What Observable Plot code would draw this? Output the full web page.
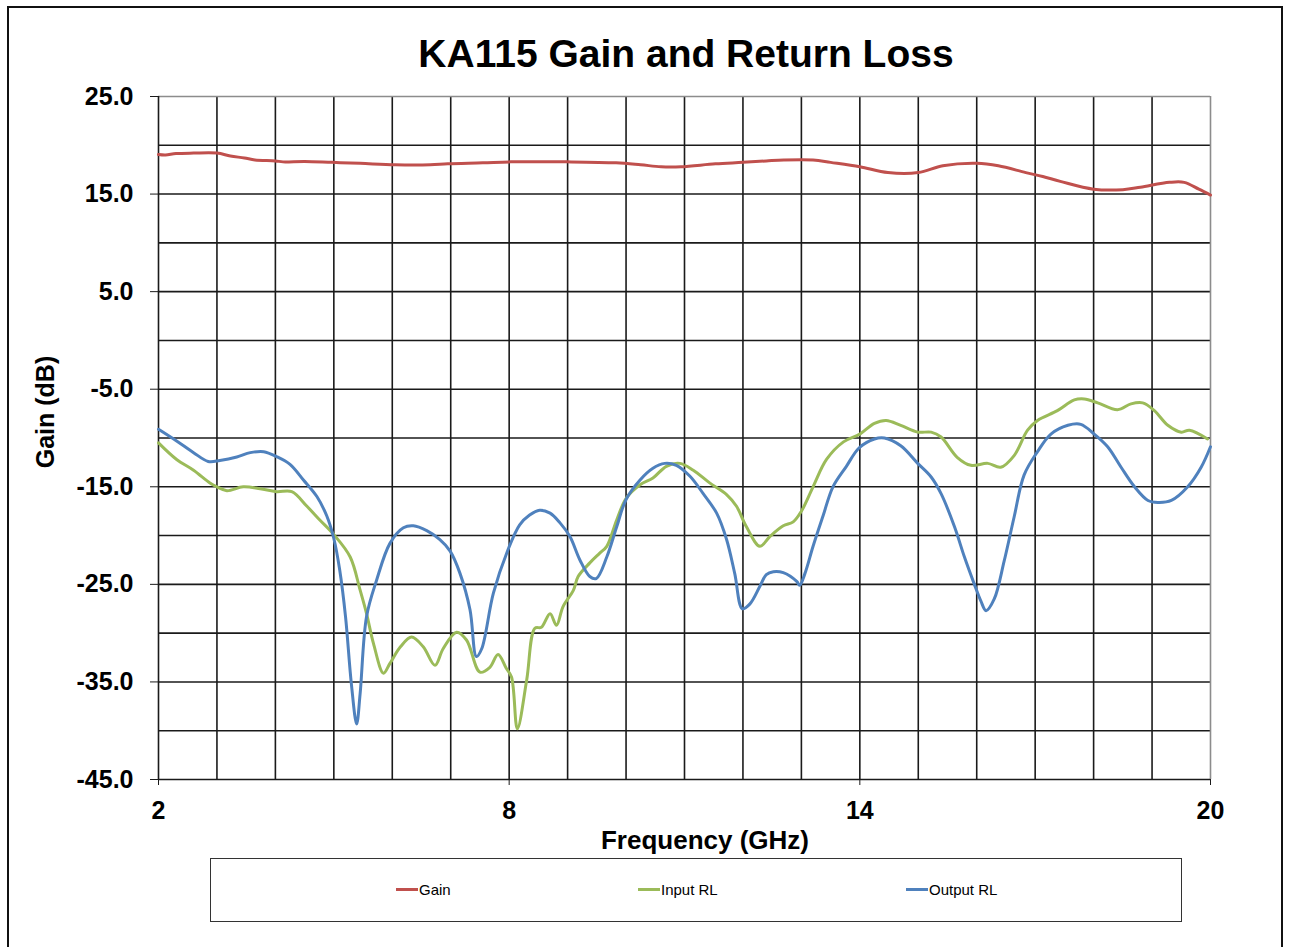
<!DOCTYPE html>
<html>
<head>
<meta charset="utf-8">
<script src="https://cdn.jsdelivr.net/npm/d3@7"></script>
<script src="https://cdn.jsdelivr.net/npm/@observablehq/plot@0.6"></script>
<style>
  html, body { margin: 0; padding: 0; background: #fff; overflow: hidden; }
  #page { position: relative; width: 1291px; height: 947px; font-family: "Liberation Sans", Arial, sans-serif; }
  #frame { position: absolute; left: 7px; top: 6px; width: 1276px; height: 980px; border: 2px solid #111; box-sizing: border-box; }
  #title { position: absolute; left: 0; width: 1372px; top: 32px; text-align: center; font-size: 39px; font-weight: bold; color: #000; }
  #chart { position: absolute; left: 0; top: 0; }
  #ylabel { position: absolute; left: 45px; top: 412px; transform: translate(-50%, -50%) rotate(-90deg); font-size: 25px; font-weight: bold; white-space: nowrap; }
  #xlabel { position: absolute; left: 705px; top: 840px; transform: translate(-50%, -50%); font-size: 26px; font-weight: bold; white-space: nowrap; }
  #legend { position: absolute; left: 210px; top: 858px; width: 972px; height: 64px; border: 1.5px solid #333; box-sizing: border-box; }
  .item { position: absolute; top: 22px; display: flex; align-items: center; font-size: 15px; color: #000; }
  .swatch { display: inline-block; width: 22px; height: 3px; margin-right: 1px; }
</style>
</head>
<body>
<div id="page">
  <div id="frame"></div>
  <div id="chart"></div>
  <div id="title">KA115 Gain and Return Loss</div>
  <div id="ylabel">Gain (dB)</div>
  <div id="xlabel">Frequency (GHz)</div>
  <div id="legend"></div>
</div>
<script>
// ---- Data ----
const seriesNames = ["Gain", "Input RL", "Output RL"];
const seriesColors = ["#C0504D", "#9BBB59", "#4F81BD"];

const xTicks = [2, 8, 14, 20];
const yTicks = [-45, -35, -25, -15, -5, 5, 15, 25];

const gainFreq = [2.0, 2.12, 2.3, 2.6, 3.0, 3.23, 3.47, 3.65, 4.0, 4.13, 4.5, 4.97, 5.45, 6.05, 6.65, 6.95, 7.55, 8.03, 8.99, 9.83, 10.25, 10.6, 10.94, 11.53, 12.0, 12.4, 12.7, 13.2, 13.5, 14.0, 14.48, 15.0, 15.42, 16.0, 16.37, 16.84, 17.13, 17.43, 18.0, 18.5, 18.8, 19.3, 19.55, 19.8, 20.0];
const gainDb   = [19.05, 19.0, 19.15, 19.2, 19.2, 18.9, 18.7, 18.5, 18.4, 18.3, 18.35, 18.25, 18.15, 18.0, 18.0, 18.1, 18.2, 18.3, 18.3, 18.2, 18.0, 17.8, 17.8, 18.1, 18.25, 18.4, 18.5, 18.5, 18.25, 17.8, 17.2, 17.2, 17.9, 18.15, 17.9, 17.2, 16.8, 16.3, 15.5, 15.45, 15.7, 16.2, 16.2, 15.5, 14.9];

const inputFreq = [2.0, 2.31, 2.6, 2.88, 3.0, 3.17, 3.45, 3.74, 4.02, 4.28, 4.54, 4.76, 5.0, 5.28, 5.45, 5.56, 5.68, 5.85, 5.96, 6.14, 6.33, 6.53, 6.73, 6.87, 7.1, 7.27, 7.5, 7.67, 7.81, 7.95, 8.04, 8.14, 8.3, 8.44, 8.55, 8.7, 8.81, 8.92, 9.1, 9.18, 9.38, 9.55, 9.67, 9.84, 10.0, 10.24, 10.46, 10.69, 10.92, 11.15, 11.43, 11.72, 11.89, 12.06, 12.29, 12.46, 12.69, 12.86, 13.0, 13.2, 13.43, 13.72, 14.0, 14.25, 14.45, 14.7, 14.99, 15.22, 15.39, 15.67, 15.9, 16.19, 16.41, 16.64, 16.87, 17.04, 17.38, 17.67, 17.84, 18.07, 18.41, 18.64, 18.84, 19.04, 19.27, 19.5, 19.64, 19.95];
const inputDb   = [-10.5, -12.2, -13.3, -14.6, -15.0, -15.4, -15.0, -15.2, -15.5, -15.5, -17.0, -18.4, -19.9, -22.2, -25.6, -28.0, -31.1, -34.1, -33.1, -31.4, -30.4, -31.4, -33.3, -31.6, -29.9, -30.7, -34.0, -33.5, -32.2, -33.6, -34.5, -39.8, -34.8, -29.5, -29.4, -28.0, -29.2, -27.3, -25.6, -24.2, -22.8, -21.8, -21.1, -18.4, -16.2, -14.8, -14.1, -12.9, -12.6, -13.3, -14.6, -15.8, -17.0, -19.1, -21.1, -20.1, -19.0, -18.6, -17.5, -15.0, -12.2, -10.4, -9.6, -8.5, -8.2, -8.7, -9.4, -9.4, -9.9, -12.0, -12.8, -12.6, -13.0, -11.8, -9.2, -8.2, -7.2, -6.1, -6.0, -6.4, -7.1, -6.5, -6.4, -7.2, -8.7, -9.4, -9.2, -10.1];

const outputFreq = [2.0, 2.31, 2.6, 2.85, 3.05, 3.34, 3.57, 3.8, 4.02, 4.25, 4.48, 4.71, 4.88, 5.0, 5.1, 5.2, 5.3, 5.39, 5.45, 5.56, 5.73, 5.96, 6.19, 6.36, 6.59, 6.81, 6.99, 7.16, 7.33, 7.44, 7.53, 7.73, 7.97, 8.18, 8.35, 8.52, 8.7, 8.87, 9.04, 9.21, 9.38, 9.49, 9.67, 9.84, 10.0, 10.24, 10.46, 10.66, 10.86, 11.09, 11.32, 11.55, 11.72, 11.86, 11.99, 12.12, 12.29, 12.4, 12.52, 12.69, 12.92, 12.97, 13.06, 13.2, 13.37, 13.54, 13.77, 13.99, 14.25, 14.42, 14.7, 14.99, 15.22, 15.39, 15.62, 15.79, 15.96, 16.07, 16.16, 16.3, 16.47, 16.64, 16.81, 17.04, 17.27, 17.56, 17.78, 18.01, 18.24, 18.47, 18.7, 18.93, 19.1, 19.33, 19.61, 19.84, 20.0];
const outputDb   = [-9.1, -10.3, -11.5, -12.4, -12.3, -11.95, -11.5, -11.4, -11.9, -12.7, -14.3, -16.0, -18.0, -20.3, -23.5, -28.3, -35.2, -39.3, -36.2, -28.3, -24.6, -20.8, -19.2, -19.0, -19.5, -20.4, -21.6, -23.9, -27.6, -32.4, -31.6, -25.9, -21.6, -18.9, -17.9, -17.4, -17.7, -18.7, -20.1, -22.5, -24.2, -24.4, -22.2, -19.1, -16.3, -14.3, -13.1, -12.6, -12.8, -13.9, -15.7, -17.7, -20.4, -23.9, -27.5, -27.0, -25.2, -24.0, -23.7, -23.8, -24.7, -25.1, -23.9, -21.1, -18.0, -15.0, -12.9, -11.0, -10.1, -10.0, -10.8, -12.6, -14.0, -15.7, -19.1, -22.2, -25.0, -26.7, -27.7, -26.5, -22.6, -18.1, -13.8, -11.4, -9.6, -8.7, -8.6, -9.6, -10.9, -13.0, -15.0, -16.4, -16.6, -16.4, -15.0, -13.0, -10.9];

// ---- Build table ----
const freqs = [gainFreq, inputFreq, outputFreq];
const vals = [gainDb, inputDb, outputDb];
const rows = [];
seriesNames.forEach((name, i) => {
  freqs[i].forEach((f, j) => rows.push({series: name, freq: f, db: vals[i][j]}));
});

const gridXv = d3.range(3, 20, 1);
const gridYv = d3.range(-40, 25, 5);

const chart = Plot.plot({
  width: 1291,
  height: 850,
  marginLeft: 158,
  marginRight: 81,
  marginTop: 96,
  marginBottom: 71,
  style: {fontFamily: "'Liberation Sans', Arial, sans-serif", fontSize: "25px", fontWeight: "bold", color: "#000", background: "transparent", overflow: "visible"},
  x: {domain: [2, 20]},
  y: {domain: [-45, 25]},
  color: {domain: seriesNames, range: seriesColors},
  marks: [
    Plot.ruleX(gridXv, {stroke: "#1a1a1a", strokeWidth: 1.6}),
    Plot.ruleY(gridYv, {stroke: "#1a1a1a", strokeWidth: 1.6}),
    Plot.ruleX([20], {stroke: "#8c8c8c", strokeWidth: 1.6}),
    Plot.ruleY([25], {stroke: "#8c8c8c", strokeWidth: 1.6}),
    Plot.ruleX([2], {stroke: "#1a1a1a", strokeWidth: 1.6}),
    Plot.ruleY([-45], {stroke: "#1a1a1a", strokeWidth: 1.6}),
    Plot.axisX({ticks: xTicks, tickSize: 6, tickPadding: 16, label: null, stroke: "#1a1a1a"}),
    Plot.axisY({ticks: yTicks, tickSize: 8, tickPadding: 17, tickFormat: d => d.toFixed(1), label: null, stroke: "#1a1a1a"}),
    Plot.line(rows, {x: "freq", y: "db", z: "series", stroke: "series", strokeWidth: 3, curve: "catmull-rom"})
  ]
});
document.getElementById("chart").appendChild(chart);

// ---- Legend ----
const legend = document.getElementById("legend");
const legendLeft = [185, 427, 695];
seriesNames.forEach((name, i) => {
  const it = document.createElement("div");
  it.className = "item";
  it.style.left = legendLeft[i] + "px";
  const sw = document.createElement("span");
  sw.className = "swatch";
  sw.style.background = seriesColors[i];
  const tx = document.createElement("span");
  tx.textContent = name;
  it.appendChild(sw);
  it.appendChild(tx);
  legend.appendChild(it);
});
</script>
</body>
</html>
